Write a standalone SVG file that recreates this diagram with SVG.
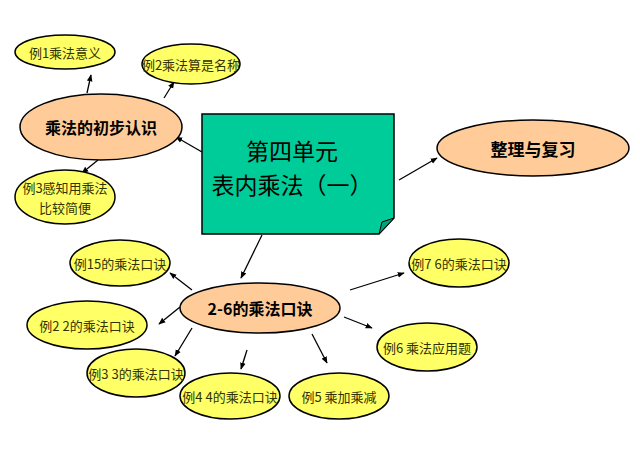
<svg xmlns="http://www.w3.org/2000/svg" width="640" height="449" viewBox="0 0 640 449">
<defs>
<marker id="ah" viewBox="0 0 10 10" refX="9" refY="5" markerWidth="7" markerHeight="7" orient="auto" markerUnits="userSpaceOnUse">
<path d="M0,1 L10,5 L0,9 z" fill="#000"/>
</marker>
<style>
.y{fill:#FFFF66;stroke:#000;stroke-width:1.5}
.o{fill:#FFCC99;stroke:#000;stroke-width:1.5}
.t{font-family:"Noto Sans CJK SC","Liberation Sans",sans-serif;font-size:13px;fill:#333300;text-anchor:middle;dominant-baseline:central}
.b{font-family:"Noto Sans CJK SC","Liberation Serif",serif;font-weight:bold;fill:#000;text-anchor:middle;dominant-baseline:central}
.m{font-family:"Noto Sans CJK SC",serif;font-size:23px;fill:#000;text-anchor:middle;dominant-baseline:central}
.c line{stroke:#000;stroke-width:1.3;marker-end:url(#ah)}
</style>
</defs>
<rect width="640" height="449" fill="#fff"/>
<g class="c" id="connectors">
<line x1="87" y1="93" x2="91" y2="75"/>
<line x1="164" y1="98" x2="174" y2="82"/>
<line x1="202" y1="152" x2="176" y2="137"/>
<line x1="98" y1="160" x2="82" y2="173"/>
<line x1="399" y1="180" x2="437" y2="158"/>
<line x1="262" y1="235" x2="241" y2="278"/>
<line x1="192" y1="290" x2="170" y2="273"/>
<line x1="180" y1="307" x2="159" y2="324"/>
<line x1="192" y1="328" x2="175" y2="356"/>
<line x1="247" y1="350" x2="241" y2="369"/>
<line x1="350" y1="290" x2="404" y2="273"/>
<line x1="344" y1="317" x2="372" y2="328"/>
<line x1="312" y1="334" x2="327" y2="363"/>
</g>
<g id="main">
<path d="M202,114 H394 V218 L379,234 H202 Z" fill="#00CC99" stroke="#000" stroke-width="1.5"/>
<path d="M394,218 L379,234 L382,222 Z" fill="#00A37A" stroke="#000" stroke-width="1"/>
<text class="m" x="292" y="150">第四单元</text>
<text class="m" x="292" y="184">表内乘法（一）</text>
</g>
<g id="n-chengfa">
<ellipse class="o" cx="101" cy="127" rx="81" ry="33"/>
<text class="b" x="101" y="127" font-size="16">乘法的初步认识</text>
</g>
<g id="n-li1">
<ellipse class="y" cx="65" cy="52" rx="50" ry="17"/>
<text class="t" x="65" y="52">例1乘法意义</text>
</g>
<g id="n-li2">
<ellipse class="y" cx="191" cy="64" rx="49" ry="20"/>
<text class="t" x="191" y="64">例2乘法算是名称</text>
</g>
<g id="n-li3">
<ellipse class="y" cx="65" cy="197" rx="50" ry="27"/>
<text class="t" x="65" y="187">例3感知用乘法</text>
<text class="t" x="65" y="207">比较简便</text>
</g>
<g id="n-zhengli">
<ellipse class="o" cx="533" cy="148" rx="96" ry="28"/>
<text class="b" x="533" y="148" font-size="17">整理与复习</text>
</g>
<g id="n-26">
<ellipse class="o" cx="260" cy="308" rx="80" ry="25"/>
<text class="b" x="260" y="308" font-size="16">2-6的乘法口诀</text>
</g>
<g id="n-li15">
<ellipse class="y" cx="120" cy="263" rx="50" ry="23"/>
<text class="t" x="120" y="263">例15的乘法口诀</text>
</g>
<g id="n-li22">
<ellipse class="y" cx="87" cy="325" rx="60" ry="24"/>
<text class="t" x="87" y="325">例2 2的乘法口诀</text>
</g>
<g id="n-li33">
<ellipse class="y" cx="136" cy="373" rx="49" ry="24"/>
<text class="t" x="136" y="373">例3 3的乘法口诀</text>
</g>
<g id="n-li44">
<ellipse class="y" cx="230" cy="396" rx="50" ry="23"/>
<text class="t" x="230" y="396">例4 4的乘法口诀</text>
</g>
<g id="n-li5">
<ellipse class="y" cx="339" cy="396" rx="50" ry="23"/>
<text class="t" x="339" y="396">例5 乘加乘减</text>
</g>
<g id="n-li6">
<ellipse class="y" cx="427" cy="347" rx="50" ry="24"/>
<text class="t" x="427" y="347">例6 乘法应用题</text>
</g>
<g id="n-li7">
<ellipse class="y" cx="459" cy="263" rx="50" ry="24"/>
<text class="t" x="459" y="263">例7 6的乘法口诀</text>
</g>
</svg>
